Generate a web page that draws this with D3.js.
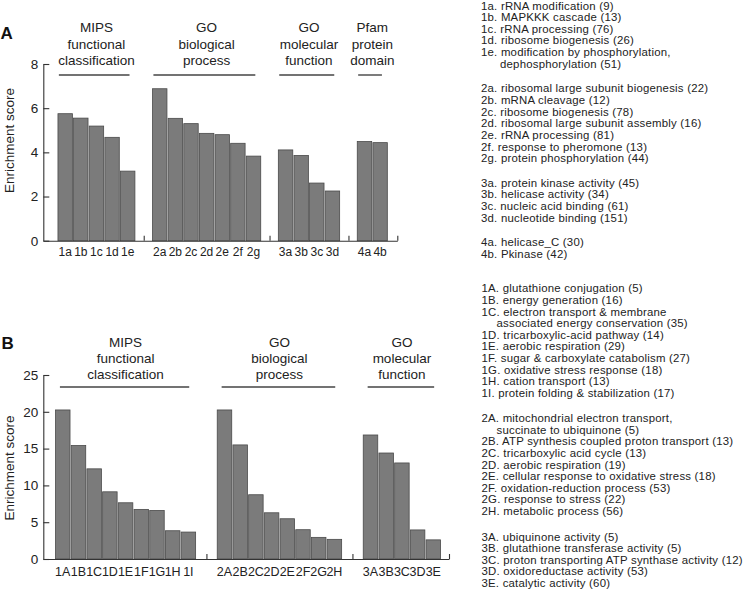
<!DOCTYPE html>
<html><head><meta charset="utf-8">
<script src="https://cdn.jsdelivr.net/npm/d3@7"></script>
<style>
body{margin:0;background:#fff}
svg{display:block;font-family:"Liberation Sans",Arial,Helvetica,sans-serif}
</style>
</head><body>
<svg id="chart" width="753" height="591"></svg>
<script>
// ---------------- Panel A data ----------------
const aTitles = [["MIPS","functional","classification"],["GO","biological","process"],["GO","molecular","function"],["Pfam","protein","domain"]];
const aMipsCats = ["1a","1b","1c","1d","1e"];
const aMipsVals = [5.75,5.55,5.19,4.68,3.15];
const aBioCats = ["2a","2b","2c","2d","2e","2f","2g"];
const aBioVals = [6.88,5.54,5.30,4.86,4.80,4.41,3.83];
const aMolCats = ["3a","3b","3c","3d"];
const aMolVals = [4.11,3.86,2.61,2.25];
const aPfamCats = ["4a","4b"];
const aPfamVals = [4.49,4.44];
const aYTicks = [0,2,4,6,8];
const aLegend = [
  ["1a. rRNA modification (9)","1b. MAPKKK cascade (13)","1c. rRNA processing (76)","1d. ribosome biogenesis (26)",["1e. modification by phosphorylation,","dephosphorylation (51)"]],
  ["2a. ribosomal large subunit biogenesis (22)","2b. mRNA cleavage (12)","2c. ribosome biogenesis (78)","2d. ribosomal large subunit assembly (16)","2e. rRNA processing (81)","2f. response to pheromone (13)","2g. protein phosphorylation (44)"],
  ["3a. protein kinase activity (45)","3b. helicase activity (34)","3c. nucleic acid binding (61)","3d. nucleotide binding (151)"],
  ["4a. helicase_C (30)","4b. Pkinase (42)"]
];

// ---------------- Panel B data ----------------
const bTitles = [["MIPS","functional","classification"],["GO","biological","process"],["GO","molecular","function"]];
const bMipsCats = ["1A","1B","1C","1D","1E","1F","1G","1H","1I"];
const bMipsVals = [20.25,15.42,12.25,9.13,7.64,6.74,6.60,3.84,3.66];
const bBioCats = ["2A","2B","2C","2D","2E","2F","2G","2H"];
const bBioVals = [20.25,15.5,8.73,6.28,5.47,3.98,2.94,2.67];
const bMolCats = ["3A","3B","3C","3D","3E"];
const bMolVals = [16.85,14.4,13.05,3.95,2.6];
const bYTicks = [0,5,10,15,20,25];
const bLegend = [
  ["1A. glutathione conjugation (5)","1B. energy generation (16)",["1C. electron transport & membrane","associated energy conservation (35)"],"1D. tricarboxylic-acid pathway (14)","1E. aerobic respiration (29)","1F. sugar & carboxylate catabolism (27)","1G. oxidative stress response (18)","1H. cation transport (13)","1I. protein folding & stabilization (17)"],
  [["2A. mitochondrial electron transport,","succinate to ubiquinone (5)"],"2B. ATP synthesis coupled proton transport (13)","2C. tricarboxylic acid cycle (13)","2D. aerobic respiration (19)","2E. cellular response to oxidative stress (18)","2F. oxidation-reduction process (53)","2G. response to stress (22)","2H. metabolic process (56)"],
  ["3A. ubiquinone activity (5)","3B. glutathione transferase activity (5)","3C. proton transporting ATP synthase activity (12)","3D. oxidoreductase activity (53)","3E. catalytic activity (60)"]
];

// ---------------- drawing ----------------
const svg = d3.select("#chart");
const TXT = "#222", AX = "#333", BAR = "#7b7b7b", BARS = "#4a4a4a";

function drawPanel(p) {
  const g = svg.append("g");
  const groups = p.cats.map((c, i) => ({cats: c, vals: p.vals[i], title: p.titles[i]}));
  let idx = 0;
  const bars = [];
  groups.forEach((gr, gi) => {
    gr.start = idx + gi * p.gap;
    gr.cats.forEach((c, k) => bars.push({cat: c, val: gr.vals[k], u: gr.start + k}));
    gr.end = gr.start + gr.cats.length;
    idx += gr.cats.length;
  });
  const last = groups[groups.length - 1].end;
  const x = d3.scaleLinear().domain([-p.padL, last + p.padR]).range([p.left, p.right]);
  const y = d3.scaleLinear().domain([0, p.yMax]).range([p.bottom, p.top]);

  g.selectAll("rect.bar").data(bars).join("rect")
    .attr("x", d => x(d.u) + 0.6)
    .attr("width", d => x(d.u + 1) - x(d.u) - 1.2)
    .attr("y", d => y(d.val))
    .attr("height", d => y(0) - y(d.val))
    .attr("fill", BAR).attr("stroke", BARS).attr("stroke-width", 0.8);

  const ya = g.append("g").attr("transform", `translate(${p.left},0)`)
    .call(d3.axisLeft(y).tickValues(p.yTicks).tickSizeInner(-6).tickSizeOuter(0).tickPadding(5));
  ya.selectAll("path,line").attr("stroke", AX).attr("stroke-width", 1.1);
  ya.selectAll("text").attr("font-size", 13.5).attr("fill", TXT).attr("font-family", null);

  const sepTicks = groups.slice(0, -1).map(gr => gr.end + p.gap / 2).concat([last + p.padR]);
  const xa = g.append("g").attr("transform", `translate(0,${p.bottom})`)
    .call(d3.axisBottom(x).tickValues(sepTicks).tickSizeInner(-5).tickSizeOuter(0).tickFormat(""));
  xa.selectAll("path,line").attr("stroke", AX).attr("stroke-width", 1.1);

  g.selectAll("text.xl").data(bars).join("text")
    .attr("x", d => x(d.u + 0.5)).attr("y", p.xLabelY)
    .attr("text-anchor", "middle").attr("font-size", p.xFont).attr("fill", TXT)
    .text(d => d.cat);

  groups.forEach(gr => {
    const cx = (x(gr.start) + x(gr.end)) / 2;
    gr.title.forEach((t, li) => {
      g.append("text").attr("x", cx).attr("y", p.titleY[li]).attr("text-anchor", "middle")
        .attr("font-size", 13.5).attr("fill", TXT).text(t);
    });
    g.append("line").attr("x1", x(gr.start) + p.ulInL).attr("x2", x(gr.end) - p.ulInR)
      .attr("y1", p.ulY).attr("y2", p.ulY).attr("stroke", "#444").attr("stroke-width", 1.4);
  });

  g.append("text").attr("transform", `translate(${p.yTitle[0]},${p.yTitle[1]}) rotate(-90)`)
    .attr("text-anchor", "middle").attr("font-size", 13.5).attr("fill", TXT).text("Enrichment score");

  g.append("text").attr("x", p.tag[0]).attr("y", p.tag[1]).attr("font-size", 17)
    .attr("font-weight", "bold").attr("fill", "#111").text(p.tagText);

  let yy = p.listY;
  p.legend.forEach((grp, gi) => {
    if (gi > 0) yy += p.listGap;
    grp.forEach(item => {
      const lines = Array.isArray(item) ? item : [item];
      lines.forEach((ln, li) => {
        g.append("text").attr("x", p.listX + (li > 0 ? p.indent : 0)).attr("y", yy)
          .attr("font-size", 11.4).attr("letter-spacing", 0.22).attr("fill", TXT).text(ln);
        yy += p.lineH;
      });
    });
  });
}

drawPanel({
  cats: [aMipsCats, aBioCats, aMolCats, aPfamCats],
  vals: [aMipsVals, aBioVals, aMolVals, aPfamVals],
  titles: aTitles, yTicks: aYTicks, yMax: 8,
  left: 43.3, right: 397.3, top: 64, bottom: 240.7,
  gap: 1.05, padL: 0.9, padR: 0.6,
  xLabelY: 255.5, xFont: 12,
  titleY: [32.3, 48.6, 65], ulY: 75, ulInL: 1.5, ulInR: 6,
  yTitle: [13.5, 140.5], tag: [0.5, 39], tagText: "A",
  legend: aLegend, listX: 481, listY: 9.5, lineH: 11.65, listGap: 12.9, indent: 19
});

drawPanel({
  cats: [bMipsCats, bBioCats, bMolCats],
  vals: [bMipsVals, bBioVals, bMolVals],
  titles: bTitles, yTicks: bYTicks, yMax: 25,
  left: 43.3, right: 449, top: 375, bottom: 559,
  gap: 1.3, padL: 0.74, padR: 0.5,
  xLabelY: 576, xFont: 12.5,
  titleY: [346.7, 363, 379], ulY: 387, ulInL: 5, ulInR: 7,
  yTitle: [14, 468], tag: [1.5, 348.5], tagText: "B",
  legend: bLegend, listX: 481.5, listY: 292.3, lineH: 11.6, listGap: 13.9, indent: 15
});
</script>
</body></html>
